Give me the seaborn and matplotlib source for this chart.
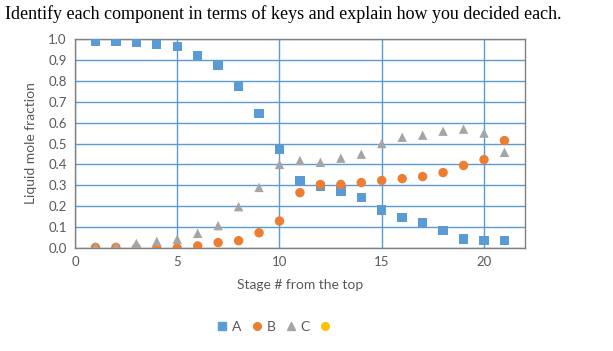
import pandas as pd
import numpy as np
import matplotlib
matplotlib.use("Agg")
import matplotlib.pyplot as plt
import seaborn as sns
from matplotlib.lines import Line2D

sns.set_style("white")
plt.rcParams['font.family'] = ['Lato', 'DejaVu Sans']

# data
stages = list(range(1, 22))
comp_a = [0.99, 0.99, 0.984, 0.974, 0.965, 0.92, 0.874, 0.772, 0.644, 0.471, 0.321,
          0.294, 0.273, 0.241, 0.182, 0.145, 0.121, 0.083, 0.043, 0.035, 0.035]
comp_b = [0.003, 0.003, 0.0, 0.0, 0.0, 0.01, 0.026, 0.035, 0.073, 0.129, 0.265,
          0.304, 0.304, 0.313, 0.323, 0.332, 0.342, 0.361, 0.395, 0.423, 0.514]
comp_c = [0.006, 0.006, 0.022, 0.032, 0.042, 0.07, 0.107, 0.198, 0.29, 0.40, 0.419,
          0.41, 0.43, 0.449, 0.50, 0.53, 0.54, 0.559, 0.569, 0.55, 0.458]
x_ticks = [0, 5, 10, 15, 20]
y_ticks = [0.0, 0.1, 0.2, 0.3, 0.4, 0.5, 0.6, 0.7, 0.8, 0.9, 1.0]

colors = {'A': '#5B9BD5', 'B': '#ED7D31', 'C': '#A5A5A5', 'D': '#FFC000'}
markers = {'A': 's', 'B': 'o', 'C': '^'}

df = pd.DataFrame({
    'stage': stages * 3,
    'frac': comp_a + comp_b + comp_c,
    'comp': ['A'] * 21 + ['B'] * 21 + ['C'] * 21,
})

fig = plt.figure(figsize=(6.13, 3.51), dpi=100)
ax = fig.add_axes([0.1223, 0.2934, 0.734, 0.5954])

sns.scatterplot(data=df, x='stage', y='frac', hue='comp', style='comp',
                palette=colors, markers=markers, s=46, linewidth=0,
                legend=False, ax=ax, zorder=3)

ax.set_xlim(0, 22)
ax.set_ylim(0, 1.0)
ax.set_xticks(x_ticks)
ax.set_yticks(y_ticks)
ax.set_yticklabels([f"{v:.1f}" for v in y_ticks])
ax.grid(True, color='#5B9BD5', linewidth=1.0)
ax.set_axisbelow(True)
for sp in ax.spines.values():
    sp.set_color('#808080')
    sp.set_linewidth(1.0)
ax.tick_params(axis='both', labelsize=9.5, colors='#595959', length=0, pad=6)

ax.set_xlabel('Stage # from the top', fontsize=10, color='#595959', labelpad=8)
ax.set_ylabel('Liquid mole fraction', fontsize=10, color='#595959', labelpad=8)

handles = [Line2D([], [], marker=markers.get(k, 'o'), color=colors[k], linestyle='',
                  markersize=5.5)
           for k in ['A', 'B', 'C', 'D']]
fig.legend(handles, ['A', 'B', 'C', ''], loc='center', bbox_to_anchor=(0.45, 0.068),
           ncol=4, frameon=False, fontsize=10, handletextpad=0.3,
           columnspacing=0.7, handlelength=0.8, labelcolor='#595959')

fig.text(0.008, 0.96, 'Identify each component in terms of keys and explain how you decided each.',
         family='Liberation Serif', fontsize=13, color='black', va='center')

fig.savefig('out.png', dpi=100)
